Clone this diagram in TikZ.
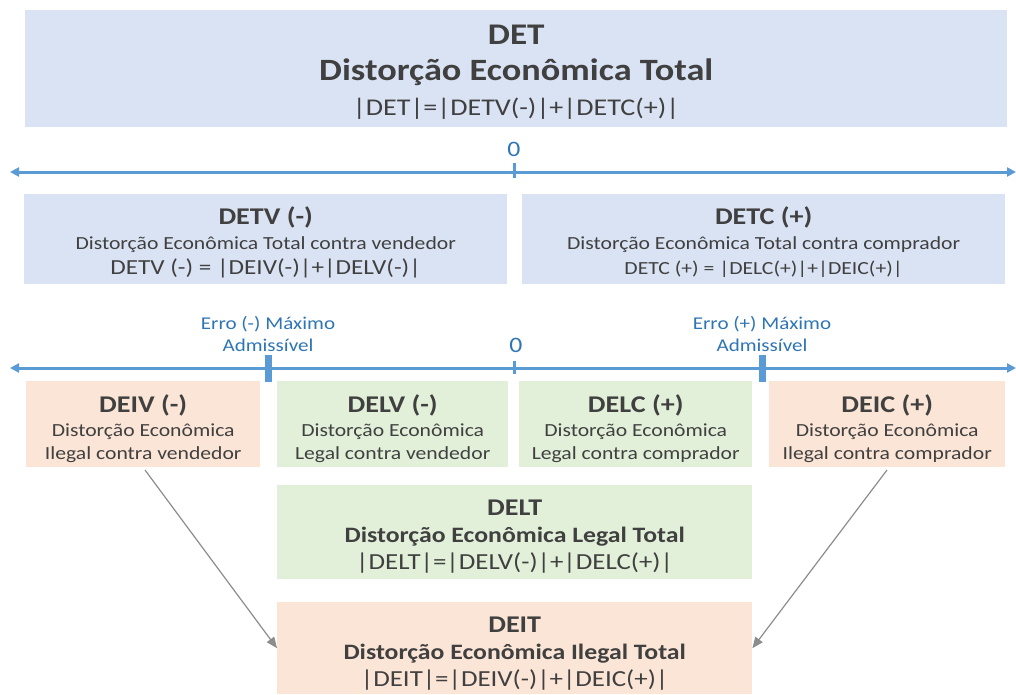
\documentclass[tikz,border=0pt]{standalone}
\usepackage{fontspec}
\setmainfont{Carlito}[FakeStretch=1.17]
\usetikzlibrary{arrows.meta}
\definecolor{bluefill}{HTML}{DAE3F3}
\definecolor{greenfill}{HTML}{E2F0D9}
\definecolor{salmonfill}{HTML}{FBE5D6}
\definecolor{axis}{HTML}{5B9BD5}
\definecolor{labelblue}{HTML}{2E75B6}
\definecolor{txt}{HTML}{404040}
\definecolor{arr}{HTML}{8C8C8C}
\tikzset{
  box/.style={anchor=north west, inner sep=0pt},
  btext/.style={inner sep=0pt, align=center, text=txt},
  axisline/.style={draw=axis, line width=3pt, {Triangle[length=9pt,width=9pt]}-{Triangle[length=9pt,width=9pt]}},
  tick/.style={draw=axis, line width=3pt},
  bigtick/.style={draw=axis, line width=7pt},
  axlabel/.style={text=labelblue, font=\fontsize{18}{22}\selectfont, align=center},
  zerolabel/.style={text=labelblue, font=\fontsize{22}{24}\selectfont},
  link/.style={draw=arr, line width=1.2pt, -{Triangle[length=11pt,width=9pt]}}
}
\newcommand{\ttl}[1]{{\fontsize{24}{25}\selectfont\bfseries #1}}
\begin{document}
\begin{tikzpicture}[x=1pt,y=-1pt]
\useasboundingbox (0,0) rectangle (1016,694);
% top box
\node[box, fill=bluefill, minimum width=982pt, minimum height=117pt] (det) at (25,10) {};
\node[btext, font=\fontsize{31}{36}\selectfont] (dett) at ([yshift=-4pt]det.center)
  {{\fontsize{30}{31}\selectfont\bfseries DET}\\\textbf{Distorção Econômica Total}\\[-1pt]{\fontsize{24}{25}\selectfont |DET|=|DETV(-)|+|DETC(+)|}};
% axis 1
\coordinate (a1l) at (10,172);
\coordinate (a1r) at (1016,172);
\draw[axisline] (a1l) -- (a1r);
\coordinate (t1a) at (514,163);
\coordinate (t1b) at (514,178);
\draw[tick] (t1a) -- (t1b);
\node[zerolabel] (zero1) at (514,149) {0};
% second row
\node[box, fill=bluefill, minimum width=483pt, minimum height=90pt] (detv) at (24,194) {};
\node[btext, font=\fontsize{18.5}{25}\selectfont] (detvt) at ([yshift=-3pt]detv.center)
  {\ttl{DETV (-)}\\Distorção Econômica Total contra vendedor\\{\fontsize{21.5}{22}\selectfont DETV (-) = |DEIV(-)|+|DELV(-)|}};
\node[box, fill=bluefill, minimum width=483pt, minimum height=90pt] (detc) at (522,194) {};
\node[btext, font=\fontsize{18.5}{25}\selectfont] (detct) at ([yshift=-3pt]detc.center)
  {\ttl{DETC (+)}\\Distorção Econômica Total contra comprador\\{\fontsize{18.5}{22}\selectfont DETC (+) = |DELC(+)|+|DEIC(+)|}};
% axis 2
\coordinate (a2l) at (10,368);
\coordinate (a2r) at (1016,368);
\draw[axisline] (a2l) -- (a2r);
\coordinate (t2a) at (514,361);
\coordinate (t2b) at (514,374);
\draw[tick] (t2a) -- (t2b);
\coordinate (tl1) at (268,355);
\coordinate (tl2) at (268,382);
\draw[bigtick] (tl1) -- (tl2);
\coordinate (tr1) at (762,355);
\coordinate (tr2) at (762,382);
\draw[bigtick] (tr1) -- (tr2);
\node[zerolabel] (zero2) at (516,345) {0};
\node[axlabel] (errm) at (268,334) {Erro (-) Máximo\\Admissível};
\node[axlabel] (errp) at (762,334) {Erro (+) Máximo\\Admissível};
% third row
\node[box, fill=salmonfill, minimum width=234pt, minimum height=86pt] (deiv) at (26,381) {};
\node[btext, font=\fontsize{18.5}{23}\selectfont] (deivt) at ([yshift=-4pt]deiv.center)
  {\ttl{DEIV (-)}\\[1pt]Distorção Econômica\\Ilegal contra vendedor};
\node[box, fill=greenfill, minimum width=231pt, minimum height=86pt] (delv) at (277,381) {};
\node[btext, font=\fontsize{18.5}{23}\selectfont] (delvt) at ([yshift=-4pt]delv.center)
  {\ttl{DELV (-)}\\[1pt]Distorção Econômica\\Legal contra vendedor};
\node[box, fill=greenfill, minimum width=233pt, minimum height=86pt] (delc) at (519,381) {};
\node[btext, font=\fontsize{18.5}{23}\selectfont] (delct) at ([yshift=-4pt]delc.center)
  {\ttl{DELC (+)}\\[1pt]Distorção Econômica\\Legal contra comprador};
\node[box, fill=salmonfill, minimum width=236pt, minimum height=86pt] (deic) at (769,381) {};
\node[btext, font=\fontsize{18.5}{23}\selectfont] (deict) at ([yshift=-4pt]deic.center)
  {\ttl{DEIC (+)}\\[1pt]Distorção Econômica\\Ilegal contra comprador};
% DELT
\node[box, fill=greenfill, minimum width=475pt, minimum height=94pt] (delt) at (277,485) {};
\node[btext, font=\fontsize{22}{27}\selectfont] (deltt) at ([yshift=-4pt]delt.center)
  {\ttl{DELT}\\\textbf{Distorção Econômica Legal Total}\\{\fontsize{23}{24}\selectfont |DELT|=|DELV(-)|+|DELC(+)|}};
% DEIT
\node[box, fill=salmonfill, minimum width=475pt, minimum height=92pt] (deit) at (277,602) {};
\node[btext, font=\fontsize{22}{27}\selectfont] (deitt) at ([yshift=-5pt]deit.center)
  {\ttl{DEIT}\\\textbf{Distorção Econômica Ilegal Total}\\{\fontsize{23}{24}\selectfont |DEIT|=|DEIV(-)|+|DEIC(+)|}};
% arrows
\coordinate (s1) at (145,470);
\coordinate (s2) at (887,470);
\draw[link] (s1) -- (deit.west);
\draw[link] (s2) -- (deit.east);
\end{tikzpicture}
\end{document}
